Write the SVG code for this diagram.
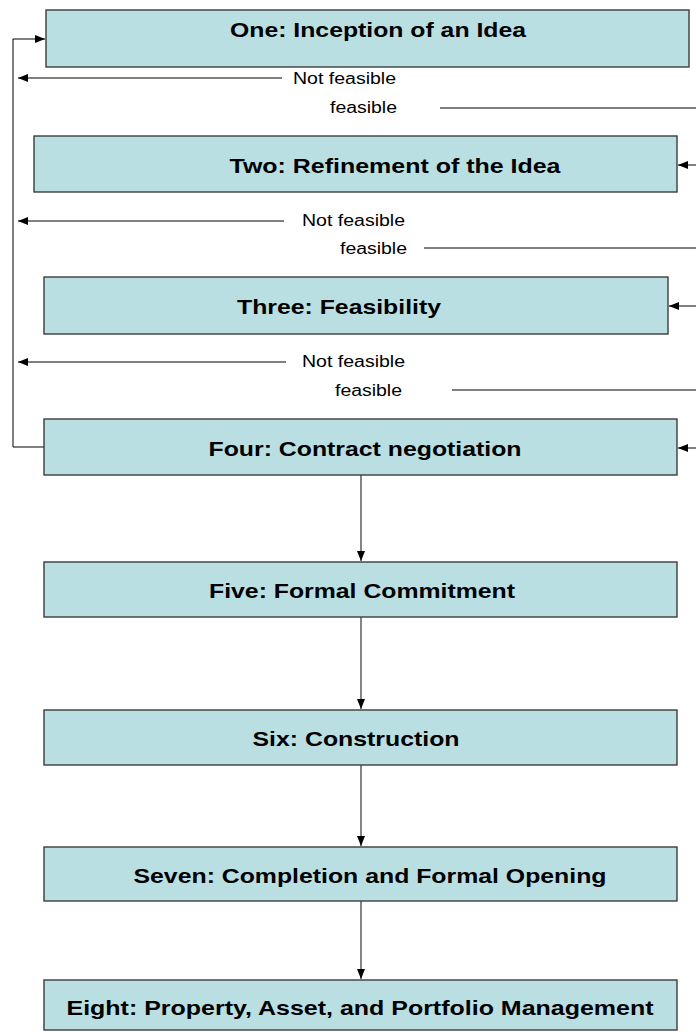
<svg xmlns="http://www.w3.org/2000/svg" width="696" height="1032" viewBox="0 0 696 1032">
<style>
.box{fill:#badfe2;stroke:#3c3c3c;stroke-width:1.4}
.t{font-family:"Liberation Sans",Arial,sans-serif;font-weight:bold;font-size:21px;fill:#000;text-anchor:middle}
.s{font-family:"Liberation Sans",Arial,sans-serif;font-size:16px;fill:#000}
.ln{fill:none;stroke:#000;stroke-width:1}
.vl{fill:none;stroke:#333;stroke-width:1.2}
</style>
<defs>
<marker id="ah" markerWidth="10" markerHeight="8" refX="10" refY="4" orient="auto" markerUnits="userSpaceOnUse">
<path d="M0,0 L10,4 L0,8 Z" fill="#000"/>
</marker>
</defs>
<rect width="696" height="1032" fill="#fff"/>
<g id="connectors">
<polyline class="ln" points="44,447 13,447 13,39 45,39" marker-end="url(#ah)"/>
<line class="ln" x1="282" y1="78" x2="18" y2="78" marker-end="url(#ah)"/>
<line class="ln" x1="440" y1="108" x2="696" y2="108"/>
<line class="ln" x1="696" y1="165" x2="678" y2="165" marker-end="url(#ah)"/>
<line class="ln" x1="284" y1="221" x2="18" y2="221" marker-end="url(#ah)"/>
<line class="ln" x1="424" y1="248" x2="696" y2="248"/>
<line class="ln" x1="696" y1="306" x2="669" y2="306" marker-end="url(#ah)"/>
<line class="ln" x1="286" y1="362" x2="18" y2="362" marker-end="url(#ah)"/>
<line class="ln" x1="452" y1="390" x2="696" y2="390"/>
<line class="ln" x1="696" y1="448" x2="678" y2="448" marker-end="url(#ah)"/>
<line class="vl" x1="361" y1="475" x2="361" y2="561" marker-end="url(#ah)"/>
<line class="vl" x1="361" y1="617" x2="361" y2="709" marker-end="url(#ah)"/>
<line class="vl" x1="361" y1="765" x2="361" y2="846" marker-end="url(#ah)"/>
<line class="vl" x1="361" y1="901" x2="361" y2="979" marker-end="url(#ah)"/>
<text class="s" x="293" y="84" textLength="103" lengthAdjust="spacingAndGlyphs">Not feasible</text>
<text class="s" x="330" y="113" textLength="67" lengthAdjust="spacingAndGlyphs">feasible</text>
<text class="s" x="302" y="226" textLength="103" lengthAdjust="spacingAndGlyphs">Not feasible</text>
<text class="s" x="340" y="254" textLength="67" lengthAdjust="spacingAndGlyphs">feasible</text>
<text class="s" x="302" y="367" textLength="103" lengthAdjust="spacingAndGlyphs">Not feasible</text>
<text class="s" x="335" y="396" textLength="67" lengthAdjust="spacingAndGlyphs">feasible</text>
</g>
<g id="n1"><rect class="box" x="46" y="10" width="643" height="57"/><text class="t" x="378" y="37" textLength="296" lengthAdjust="spacingAndGlyphs">One: Inception of an Idea</text></g>
<g id="n2"><rect class="box" x="34" y="136" width="643" height="56"/><text class="t" x="395" y="173" textLength="331" lengthAdjust="spacingAndGlyphs">Two: Refinement of the Idea</text></g>
<g id="n3"><rect class="box" x="44" y="277" width="624" height="57"/><text class="t" x="339" y="314" textLength="204" lengthAdjust="spacingAndGlyphs">Three: Feasibility</text></g>
<g id="n4"><rect class="box" x="44" y="419" width="633" height="56"/><text class="t" x="365" y="456" textLength="313" lengthAdjust="spacingAndGlyphs">Four: Contract negotiation</text></g>
<g id="n5"><rect class="box" x="44" y="562" width="633" height="55"/><text class="t" x="362" y="598" textLength="306" lengthAdjust="spacingAndGlyphs">Five: Formal Commitment</text></g>
<g id="n6"><rect class="box" x="44" y="710" width="633" height="55"/><text class="t" x="356" y="746" textLength="207" lengthAdjust="spacingAndGlyphs">Six: Construction</text></g>
<g id="n7"><rect class="box" x="44" y="847" width="633" height="54"/><text class="t" x="370" y="883" textLength="473" lengthAdjust="spacingAndGlyphs">Seven: Completion and Formal Opening</text></g>
<g id="n8"><rect class="box" x="44" y="980" width="633" height="50"/><text class="t" x="360" y="1015" textLength="587" lengthAdjust="spacingAndGlyphs">Eight: Property, Asset, and Portfolio Management</text></g>
</svg>
